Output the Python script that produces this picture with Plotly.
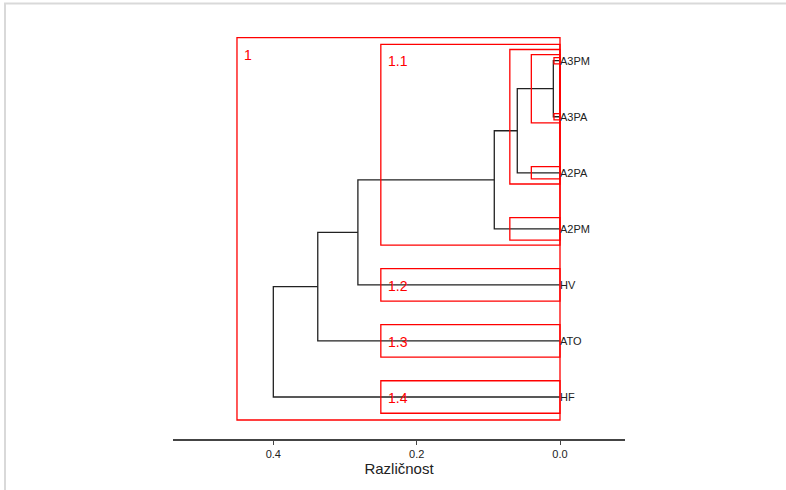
import plotly.graph_objects as go

# ---- data ----
leaves = ["A3PM", "A3PA", "A2PA", "A2PM", "HV", "ATO", "HF"]
# merges: (child_a, child_b, height); children are leaf names or merge ids "m0".."m5"
merge_a = ["A3PM", "m0", "m1", "m2", "m3", "m4"]
merge_b = ["A3PA", "A2PA", "A2PM", "HV", "ATO", "HF"]
merge_heights = [0.0093, 0.0596, 0.0917, 0.282, 0.338, 0.400]

cluster_names = ["1", "1.1", "1.1.1", "1.1.1.1", "1.1.1.1.1", "1.1.1.1.2",
                 "1.1.1.2", "1.1.2", "1.2", "1.3", "1.4"]
cluster_heights = [0.4507, 0.25, 0.07, 0.04, 0.0084, 0.0084, 0.04, 0.07, 0.25, 0.25, 0.25]
cluster_first = ["A3PM", "A3PM", "A3PM", "A3PM", "A3PM", "A3PA", "A2PA", "A2PM", "HV", "ATO", "HF"]
cluster_last = ["HF", "A2PM", "A2PA", "A3PA", "A3PM", "A3PA", "A2PA", "A2PM", "HV", "ATO", "HF"]
labelled_clusters = ["1", "1.1", "1.2", "1.3", "1.4"]

tick_vals = [0.4, 0.2, 0.0]
tick_text = ["0.4", "0.2", "0.0"]
x_title = "Različnost"

# ---- build dendrogram geometry ----
pos = {name: float(i) for i, name in enumerate(leaves)}
hgt = {name: 0.0 for name in leaves}
xs, ys = [], []
for i, (a, b, h) in enumerate(zip(merge_a, merge_b, merge_heights)):
    xs += [hgt[a], h, h, hgt[b], None]
    ys += [pos[a], pos[a], pos[b], pos[b], None]
    pos[f"m{i}"] = (pos[a] + pos[b]) / 2
    hgt[f"m{i}"] = h

fig = go.Figure()
fig.add_trace(go.Scatter(x=xs, y=ys, mode="lines",
                         line=dict(color="#222222", width=1.3),
                         hoverinfo="skip", showlegend=False))

pad_by_depth = {1: 0.41, 2: 0.29, 3: 0.2, 4: 0.11, 5: 0.055}
shapes = []
annotations = []
for name, h, f, l in zip(cluster_names, cluster_heights, cluster_first, cluster_last):
    depth = name.count(".") + 1
    pad = pad_by_depth[depth]
    y0 = pos[f] - pad
    y1 = pos[l] + pad
    shapes.append(dict(type="rect", xref="x", yref="y", x0=h, x1=0, y0=y0, y1=y1,
                       line=dict(color="#ff0000", width=1.3), fillcolor="rgba(0,0,0,0)",
                       layer="above"))
    if name in labelled_clusters:
        annotations.append(dict(x=h, y=y0, xref="x", yref="y", text=name, showarrow=False,
                                xanchor="left", yanchor="middle", xshift=5, yshift=-17,
                                font=dict(family="Liberation Sans, Arial", size=14, color="#ff0000")))

for name in leaves:
    annotations.append(dict(x=0, y=pos[name], xref="x", yref="y", text=name, showarrow=False,
                            xanchor="left", yanchor="middle", xshift=-2,
                            font=dict(family="Liberation Sans, Arial", size=11, color="#222222")))

# light page frame (top and left edges)
L, R, T, B = 173, 161, 20, 51
W, H = 786, 490
pw, ph = W - L - R, H - T - B
def px(x): return (x - L) / pw
def py(y): return (H - B - y) / ph
shapes.append(dict(type="rect", xref="paper", yref="paper",
                   x0=px(5), x1=px(900), y0=py(700), y1=py(3.5),
                   line=dict(color="#d9d9d9", width=2), fillcolor="rgba(0,0,0,0)", layer="below"))

fig.update_layout(
    width=W, height=H, margin=dict(l=L, r=R, t=T, b=B),
    paper_bgcolor="white", plot_bgcolor="white",
    shapes=shapes, annotations=annotations,
    font=dict(family="Liberation Sans, Arial", color="#333333"),
    xaxis=dict(range=[(560 - L) / 716.7, (560 - (W - R)) / 716.7],
               tickvals=tick_vals, ticktext=tick_text, ticks="outside", ticklen=4,
               tickcolor="#444444", tickwidth=1, showline=True, linecolor="#444444", linewidth=1.5,
               showgrid=False, zeroline=False, tickfont=dict(size=11, color="#222222"),
               title=dict(text=x_title, font=dict(size=15, color="#222222"), standoff=4)),
    yaxis=dict(range=[6 + (H - B - 397) / 56.05, -(60.7 - T) / 56.05],
               visible=False, showgrid=False, zeroline=False),
)

fig.write_html("out.html")
